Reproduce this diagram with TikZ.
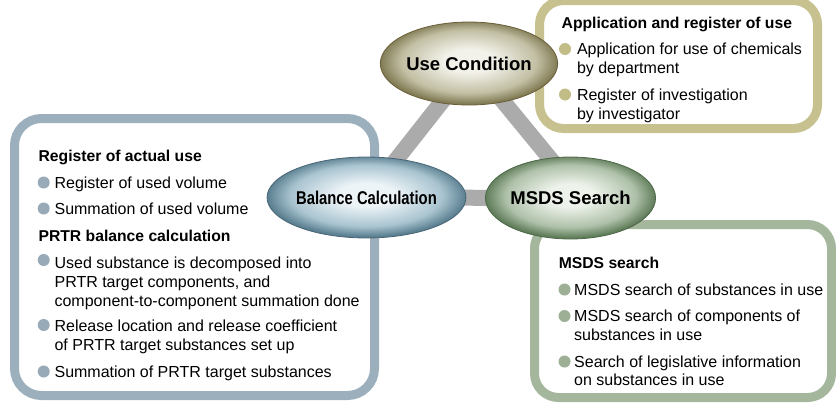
\documentclass[tikz,border=0pt]{standalone}
\usepackage{fontspec}
\setmainfont{Liberation Sans}
\newfontfamily\narrowfont[FakeStretch=0.8]{Liberation Sans}
\usetikzlibrary{shapes.geometric}
\definecolor{leftc}{HTML}{9BAFBD}
\definecolor{trc}{HTML}{C6C18E}
\definecolor{brc}{HTML}{A4B69C}
\definecolor{bulblue}{HTML}{98AAB8}
\definecolor{bulkhaki}{HTML}{C2BC87}
\definecolor{bulgreen}{HTML}{9DAF94}
\definecolor{barc}{HTML}{ABABAB}
\definecolor{usedark}{HTML}{827C55}
\definecolor{usemid}{HTML}{C2BFA4}
\definecolor{uselight}{HTML}{F3F2EA}
\definecolor{userim}{HTML}{6A5E3A}
\definecolor{baldark}{HTML}{5A7F90}
\definecolor{balmid}{HTML}{A9C4D0}
\definecolor{ballight}{HTML}{EDF4F8}
\definecolor{balrim}{HTML}{4A6676}
\definecolor{msdark}{HTML}{607D5A}
\definecolor{msmid}{HTML}{AFC1AA}
\definecolor{mslight}{HTML}{EDF2EA}
\definecolor{msrim}{HTML}{4D6848}
\pgfdeclareradialshading{useshade}{\pgfpoint{0bp}{2bp}}{color(0bp)=(uselight); color(7bp)=(uselight); color(19bp)=(usemid); color(25bp)=(usedark); color(50bp)=(usedark)}
\pgfdeclareradialshading{balshade}{\pgfpoint{0bp}{2bp}}{color(0bp)=(ballight); color(7bp)=(ballight); color(19bp)=(balmid); color(25bp)=(baldark); color(50bp)=(baldark)}
\pgfdeclareradialshading{msshade}{\pgfpoint{0bp}{2bp}}{color(0bp)=(mslight); color(7bp)=(mslight); color(19bp)=(msmid); color(25bp)=(msdark); color(50bp)=(msdark)}
\begin{document}
\begin{tikzpicture}[x=1pt,y=-1pt,
  panel/.style={rectangle, rounded corners=24pt, line width=9pt, fill=white, inner sep=0pt},
  bar/.style={draw=barc, line width=16pt},
  hub/.style={ellipse, inner sep=0pt, line width=0.8pt, font=\bfseries\fontsize{18.5}{20}\selectfont},
  head/.style={anchor=base west, inner sep=0pt, font=\bfseries\fontsize{15.7}{19}\selectfont},
  item/.style={anchor=base west, inner sep=0pt, align=left, font=\fontsize{16}{18.8}\selectfont},
  bul/.style={circle, inner sep=0pt, minimum size=12pt}]
\useasboundingbox (0,0) rectangle (836,402);
% panels
\node[panel, draw=leftc, rounded corners=27pt, minimum width=360pt, minimum height=277pt] (boxL) at (194.5,257) {};
\node[panel, draw=trc, minimum width=278pt, minimum height=128pt] (boxTR) at (678.5,64.5) {};
\node[panel, draw=brc, minimum width=297pt, minimum height=173pt] (boxBR) at (683,311) {};
% hub coordinates (nodes drawn later)
\path (469,63.5) coordinate (useC) (366.5,197.5) coordinate (balC) (570.5,198) coordinate (msC);
\draw[bar, line join=round] (balC) -- ([xshift=3pt]useC) -- ([xshift=12pt]msC) -- cycle;
% hubs
\node[hub, shading=useshade, draw=userim, minimum width=160pt, minimum height=83pt] (use) at (useC) {Use Condition};
\node[hub, shading=balshade, draw=balrim, minimum width=160pt, minimum height=81pt] (bal) at (balC) {\raisebox{-2.5pt}{\narrowfont\bfseries Balance Calculation}};
\node[hub, shading=msshade, draw=msrim, minimum width=161pt, minimum height=82pt] (msds) at (msC) {\raisebox{-3pt}{MSDS Search}};
% top-right panel text (multi-line items are placed by the baseline of their last line)
\node[head] (trh) at (561.5,28) {Application and register of use};
\node[bul, fill=bulkhaki] (trb1) at (565,49) {};
\node[item] (tri1) at (576.8,73.3) {Application for use of chemicals\\by department};
\node[bul, fill=bulkhaki] (trb2) at (565,94.5) {};
\node[item] (tri2) at (576.8,119.3) {Register of investigation\\by investigator};
% left panel text
\node[head] (lh1) at (38.4,161.5) {Register of actual use};
\node[bul, fill=bulblue] (lb1) at (43.7,182.5) {};
\node[item] (li1) at (54.4,188) {Register of used volume};
\node[bul, fill=bulblue] (lb2) at (43.7,208.5) {};
\node[item] (li2) at (54.4,214) {Summation of used volume};
\node[head] (lh2) at (38.4,241) {PRTR balance calculation};
\node[bul, fill=bulblue] (lb3) at (43.7,260) {};
\node[item] (li3) at (54.4,306.1) {Used substance is decomposed into\\PRTR target components, and\\component-to-component summation done};
\node[bul, fill=bulblue] (lb4) at (43.7,325) {};
\node[item] (li4) at (54.4,350.3) {Release location and release coefficient\\of PRTR target substances set up};
\node[bul, fill=bulblue] (lb5) at (43.7,371.5) {};
\node[item] (li5) at (54.4,377) {Summation of PRTR target substances};
% bottom-right panel text
\node[head] (brh) at (558.6,268.5) {MSDS search};
\node[bul, fill=bulgreen] (brb1) at (564.5,289.5) {};
\node[item] (bri1) at (574,295) {MSDS search of substances in use};
\node[bul, fill=bulgreen] (brb2) at (564.5,316) {};
\node[item] (bri2) at (574,340.3) {MSDS search of components of\\substances in use};
\node[bul, fill=bulgreen] (brb3) at (564.5,361.5) {};
\node[item] (bri3) at (574,385.8) {Search of legislative information\\on substances in use};
\end{tikzpicture}
\end{document}
